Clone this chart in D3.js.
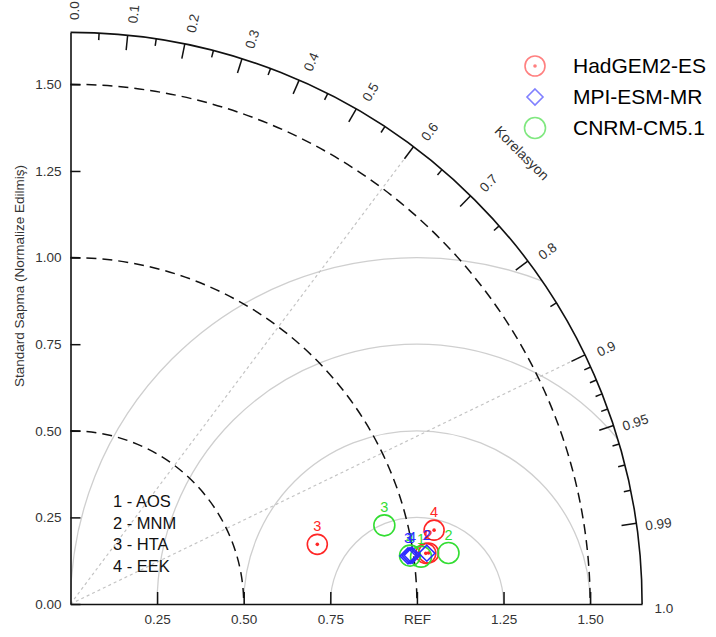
<!DOCTYPE html>
<html>
<head>
<meta charset="utf-8">
<script src="https://cdn.jsdelivr.net/npm/d3@7"></script>
<style>
  html, body { margin: 0; padding: 0; background: #fff; }
  svg { display: block; font-family: "Liberation Sans", Arial, sans-serif; }
</style>
</head>
<body>
<svg id="chart" width="716" height="637"></svg>
<script>
// Region codes used as point labels
const regionNums = ["1", "2", "3", "4"];
const regionNames = ["AOS", "MNM", "HTA", "EEK"];

// Model names (legend)
const models = ["HadGEM2-ES", "MPI-ESM-MR", "CNRM-CM5.1"];

// Normalized standard deviation and correlation per region (AOS, MNM, HTA, EEK)
const hadgemSd   = [1.036, 1.044, 0.733, 1.071];
const hadgemCorr = [0.990, 0.990, 0.972, 0.980];
const mpiSd      = [0.990, 1.039, 0.984, 0.996];
const mpiCorr    = [0.990, 0.990, 0.990, 0.990];
const cnrmSd     = [1.021, 1.101, 0.934, 0.990];
const cnrmCorr   = [0.991, 0.991, 0.970, 0.990];

// Axis ticks
const sdTicks = [0, 0.25, 0.5, 0.75, 1.0, 1.25, 1.5];
const xTicks = [0.25, 0.5, 0.75, 1.0, 1.25, 1.5];
const corrLabels = [0.0, 0.1, 0.2, 0.3, 0.4, 0.5, 0.6, 0.7, 0.8, 0.9, 0.95, 0.99, 1.0];
const corrMajor = [0.1, 0.2, 0.3, 0.4, 0.5, 0.6, 0.7, 0.8, 0.9, 0.95, 0.99];
const corrMinor = [0.05, 0.15, 0.25, 0.35, 0.45, 0.55, 0.65, 0.75, 0.85, 0.91, 0.92, 0.93, 0.94, 0.96, 0.97, 0.98];
const corrGuides = [0.6, 0.9];
const sdArcs = [0.5, 1.0, 1.5];
const rmsArcs = [0.25, 0.5, 0.75, 1.0];
const refSd = 1.0;
const maxSd = 1.65;

const svg = d3.select("#chart");
const cx = 70.5, cy = 604;
const R = 571.6;

const x = d3.scaleLinear().domain([0, maxSd]).range([cx, cx + R]);
const y = d3.scaleLinear().domain([0, maxSd]).range([cy, cy - R]);
const rs = d3.scaleLinear().domain([0, maxSd]).range([0, R]);

// polar helper: (sd, corr) -> pixel
function pt(sd, corr) {
  const th = Math.acos(corr);
  return [x(sd * Math.cos(th)), y(sd * Math.sin(th))];
}

// Clip to the quarter disk of the diagram
svg.append("defs").append("clipPath").attr("id", "quad")
  .append("path")
  .attr("d", `M${cx},${cy} L${cx},${cy - R} A${R},${R} 0 0 1 ${cx + R},${cy} Z`);

const plot = svg.append("g");

// Centered RMS difference circles around REF
plot.append("g").attr("clip-path", "url(#quad)")
  .selectAll("circle").data(rmsArcs).join("circle")
  .attr("cx", x(refSd)).attr("cy", cy)
  .attr("r", d => rs(d))
  .attr("fill", "none").attr("stroke", "#cfcfcf").attr("stroke-width", 1.3);

// Dotted correlation guide lines
plot.append("g").selectAll("line").data(corrGuides).join("line")
  .attr("x1", cx).attr("y1", cy)
  .attr("x2", d => pt(maxSd, d)[0]).attr("y2", d => pt(maxSd, d)[1])
  .attr("stroke", "#c4c4c4").attr("stroke-width", 1.2)
  .attr("stroke-dasharray", "3,3");

// Dashed standard deviation arcs
plot.append("g").selectAll("path").data(sdArcs).join("path")
  .attr("d", d => `M${cx},${y(d)} A${rs(d)},${rs(d)} 0 0 1 ${x(d)},${cy}`)
  .attr("fill", "none").attr("stroke", "#111").attr("stroke-width", 1.5)
  .attr("stroke-dasharray", "10,6");

// Outer arc
plot.append("path")
  .attr("d", `M${cx},${cy - R} A${R},${R} 0 0 1 ${cx + R},${cy}`)
  .attr("fill", "none").attr("stroke", "#111").attr("stroke-width", 1.6);

// Correlation ticks on the outer arc
function tickLine(c, len) {
  const th = Math.acos(c);
  return {
    x1: cx + R * Math.cos(th), y1: cy - R * Math.sin(th),
    x2: cx + (R - len) * Math.cos(th), y2: cy - (R - len) * Math.sin(th)
  };
}
plot.append("g").selectAll("line.maj").data(corrMajor).join("line")
  .each(function(d) { const t = tickLine(d, 15); d3.select(this).attr("x1", t.x1).attr("y1", t.y1).attr("x2", t.x2).attr("y2", t.y2); })
  .attr("stroke", "#111").attr("stroke-width", 1.5);
plot.append("g").selectAll("line.min").data(corrMinor).join("line")
  .each(function(d) { const t = tickLine(d, 7); d3.select(this).attr("x1", t.x1).attr("y1", t.y1).attr("x2", t.x2).attr("y2", t.y2); })
  .attr("stroke", "#111").attr("stroke-width", 1.5);

// Correlation labels, rotated along the radius
plot.append("g").selectAll("text").data(corrLabels).join("text")
  .attr("transform", d => {
    const th = Math.acos(d);
    const rr = R * 1.038;
    return `translate(${cx + rr * Math.cos(th)},${cy - rr * Math.sin(th)}) rotate(${-th * 180 / Math.PI})`;
  })
  .attr("y", 4)
  .attr("text-anchor", "middle").attr("dominant-baseline", "central")
  .attr("font-size", 13.5).attr("fill", "#333")
  .text(d => d === 0 ? "0.0" : d === 1 ? "1.0" : String(d));

// "Korelasyon" axis title along the diagonal
svg.append("text")
  .attr("transform", "translate(522,153) rotate(45)")
  .attr("text-anchor", "middle").attr("dominant-baseline", "central")
  .attr("font-size", 14).attr("fill", "#333")
  .text("Korelasyon");

// Left axis (standard deviation)
const yAxis = d3.axisLeft(y).tickValues(sdTicks).tickFormat(d3.format(".2f"))
  .tickSizeInner(-10).tickSizeOuter(0).tickPadding(9);
const gy = svg.append("g").attr("transform", `translate(${cx},0)`).call(yAxis);
gy.select(".domain").attr("stroke", "#111").attr("stroke-width", 1.6);
gy.selectAll(".tick line").attr("stroke", "#111").attr("stroke-width", 1.5);
gy.selectAll(".tick text").attr("font-size", 13.5).attr("fill", "#333")
  .attr("font-family", "Liberation Sans, Arial, sans-serif");

// Bottom axis
const xAxis = d3.axisBottom(x).tickValues(xTicks)
  .tickFormat(d => d === refSd ? "REF" : d3.format(".2f")(d))
  .tickSizeInner(-12).tickSizeOuter(0).tickPadding(10);
const gx = svg.append("g").attr("transform", `translate(0,${cy})`).call(xAxis);
gx.select(".domain").attr("stroke", "#111").attr("stroke-width", 1.6);
gx.selectAll(".tick line").attr("stroke", "#111").attr("stroke-width", 1.5);
gx.selectAll(".tick text").attr("font-size", 13.5).attr("fill", "#333")
  .attr("font-family", "Liberation Sans, Arial, sans-serif");

// Y-axis title
svg.append("text")
  .attr("transform", "translate(19,276) rotate(-90)")
  .attr("text-anchor", "middle").attr("dominant-baseline", "central")
  .attr("font-size", 13.5).attr("fill", "#333")
  .text("Standard Sapma (Normalize Edilmiş)");

// Markers
const red = "#ff2626", blue = "#2b2bff", green = "#33dd33";
function circleDot(g, p, col) {
  g.append("circle").attr("cx", p[0]).attr("cy", p[1]).attr("r", 10)
    .attr("fill", "none").attr("stroke", col).attr("stroke-width", 1.6);
  g.append("circle").attr("cx", p[0]).attr("cy", p[1]).attr("r", 1.8).attr("fill", col);
}
function diamond(g, p, col) {
  const h = 8;
  g.append("path")
    .attr("d", `M${p[0]},${p[1] - h} L${p[0] + h},${p[1]} L${p[0]},${p[1] + h} L${p[0] - h},${p[1]} Z`)
    .attr("fill", "none").attr("stroke", col).attr("stroke-width", 1.6);
}
function ring(g, p, col) {
  g.append("circle").attr("cx", p[0]).attr("cy", p[1]).attr("r", 10.5)
    .attr("fill", "none").attr("stroke", col).attr("stroke-width", 1.6);
}

const series = [
  { sd: hadgemSd, corr: hadgemCorr, col: red, draw: circleDot },
  { sd: cnrmSd, corr: cnrmCorr, col: green, draw: ring },
  { sd: mpiSd, corr: mpiCorr, col: blue, draw: diamond }
];

const marks = svg.append("g");
series.forEach(s => {
  s.sd.forEach((v, i) => {
    const p = pt(v, s.corr[i]);
    s.draw(marks, p, s.col);
  });
});
series.forEach(s => {
  s.sd.forEach((v, i) => {
    const p = pt(v, s.corr[i]);
    marks.append("text").attr("x", p[0]).attr("y", p[1] - 13)
      .attr("text-anchor", "middle").attr("font-size", 14.5)
      .attr("fill", s.col).text(regionNums[i]);
  });
});

// Region key
const key = svg.append("g");
regionNames.forEach((n, i) => {
  key.append("text").attr("x", 113).attr("y", 507 + i * 21.5)
    .attr("font-size", 16.5).attr("fill", "#111")
    .text(`${regionNums[i]} - ${n}`);
});

// Model legend
const legCols = ["#ff8080", "#8080ff", "#80e880"];
const legDraw = [circleDot, diamond, ring];
models.forEach((m, i) => {
  const ly = 66 + i * 31;
  legDraw[i](svg.append("g"), [535, ly], legCols[i]);
  svg.append("text").attr("x", 573).attr("y", ly + 7)
    .attr("font-size", 21).attr("fill", "#000").text(m);
});
</script>
</body>
</html>
